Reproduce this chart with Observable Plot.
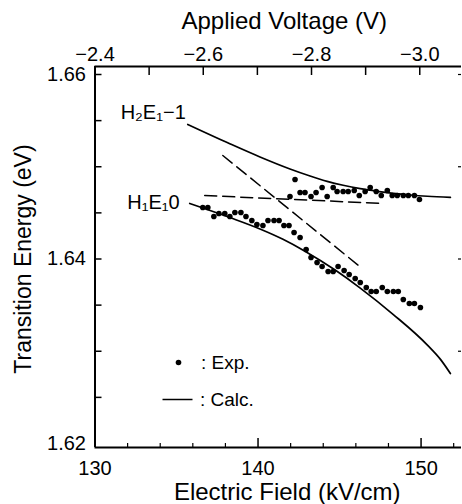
<!DOCTYPE html>
<html><head><meta charset="utf-8">
<script src="https://cdn.jsdelivr.net/npm/d3@7"></script>
<script src="https://cdn.jsdelivr.net/npm/@observablehq/plot@0.6"></script>
<style>body{margin:0;background:#fff}#chart svg{overflow:visible}</style>
</head><body><div id="chart"></div><script>
// Calculated H2E1-1 transition (solid)
const calcUpperField  = [135.69, 138.27, 140.12, 141.96, 143.19, 144.24, 145.22, 146.27, 147.31, 148.30, 149.34, 150.39, 151.80];
const calcUpperEnergy = [1.65458, 1.65249, 1.65106, 1.64976, 1.64900, 1.64842, 1.64799, 1.64762, 1.64734, 1.64712, 1.64694, 1.64680, 1.64667];
// Calculated H1E1 0 transition (solid)
const calcLowerField  = [135.81, 138.27, 140.12, 141.53, 142.88, 144.73, 146.27, 148.30, 150.39, 151.19, 151.80];
const calcLowerEnergy = [1.64602, 1.64450, 1.64326, 1.64214, 1.64085, 1.63880, 1.63685, 1.63398, 1.63067, 1.62912, 1.62759];
// Uncoupled (dashed) lines
const dashSteepField  = [137.84, 146.39];
const dashSteepEnergy = [1.65122, 1.63897];
const dashFlatField   = [136.73, 147.68];
const dashFlatEnergy  = [1.64688, 1.64602];
// Experimental points, upper branch
const expUpperField  = [141.96, 142.27, 142.58, 142.88, 143.25, 143.56, 143.93, 144.24, 144.61, 144.85, 145.22, 145.53, 145.90, 146.21, 146.57, 146.88, 147.25, 147.56, 147.93, 148.23, 148.54, 148.91, 149.22, 149.59, 149.90];
const expUpperEnergy = [1.64678, 1.64862, 1.64721, 1.64721, 1.64678, 1.64721, 1.64775, 1.64678, 1.64775, 1.64732, 1.64732, 1.64732, 1.64743, 1.64688, 1.64732, 1.64775, 1.64732, 1.64688, 1.64743, 1.64688, 1.64688, 1.64688, 1.64688, 1.64688, 1.64645];
// Experimental points, lower branch
const expLowerField  = [136.61, 136.92, 137.29, 137.60, 137.96, 138.27, 138.58, 138.95, 139.26, 139.62, 139.93, 140.30, 140.61, 140.98, 141.29, 141.59, 141.90, 142.21, 142.58, 142.95, 143.25, 143.62, 143.93, 144.30, 144.61, 144.91, 145.28, 145.59, 145.96, 146.27, 146.64, 146.94, 147.25, 147.62, 147.93, 148.30, 148.60, 148.91, 149.28, 149.59, 149.96];
const expLowerEnergy = [1.64558, 1.64558, 1.64461, 1.64493, 1.64493, 1.64461, 1.64504, 1.64504, 1.64461, 1.64417, 1.64374, 1.64363, 1.64417, 1.64417, 1.64417, 1.64363, 1.64363, 1.64287, 1.64233, 1.64103, 1.64016, 1.63962, 1.63919, 1.63865, 1.63865, 1.63919, 1.63875, 1.63832, 1.63789, 1.63745, 1.63691, 1.63648, 1.63648, 1.63691, 1.63648, 1.63648, 1.63648, 1.63561, 1.63518, 1.63518, 1.63474];
// Axes
const fieldMajorTicks = [130, 140, 150];
const fieldMinorTicks = [132, 134, 136, 138, 142, 144, 146, 148, 152];
const energyTicks = [1.625, 1.63, 1.635, 1.64, 1.645, 1.65, 1.655, 1.66];
const energyLabelTicks = [1.62, 1.64, 1.66];
const energyRightTicks = [1.63, 1.64, 1.65, 1.66];
const voltageTicks = [-2.5, -2.6, -2.7, -2.8, -2.9, -3.0];
const voltageLabelTicks = [-2.4, -2.6, -2.8, -3.0];
const curveLabels = ["H\u2082E\u2081\u22121", "H\u2081E\u20810"];
const legendLabels = [": Exp.", ": Calc."];
const xDomain = [130, 152.48];
const yDomain = [1.619566, 1.660867];
// voltage -> field (linear relation of the top axis)
const fieldOfVoltage = v => 130 + (-2.4 - v) * 33.2;

const zip = (xs, ys) => xs.map((x, i) => ({x, y: ys[i]}));
const calcUpper = zip(calcUpperField, calcUpperEnergy);
const calcLower = zip(calcLowerField, calcLowerEnergy);
const dashSteep = zip(dashSteepField, dashSteepEnergy);
const dashFlat = zip(dashFlatField, dashFlatEnergy);
const expAll = zip(expUpperField, expUpperEnergy).concat(zip(expLowerField, expLowerEnergy));
const hLine = {draw(ctx) { ctx.moveTo(-15, 0); ctx.lineTo(15, 0); }};
const F = "Liberation Sans, Arial, Helvetica, sans-serif";

const W = 462, H = 504, ML = 94.5, MR = 1, MT = 66, MB = 57;
const FW = W - ML - MR, FH = H - MT - MB;
// tick lengths in pixels, converted to data units
const ypx = (yDomain[1] - yDomain[0]) / FH;
const xpx = (xDomain[1] - xDomain[0]) / FW;

const chart = Plot.plot({
  width: W, height: H,
  marginLeft: ML, marginRight: MR, marginTop: MT, marginBottom: MB,
  style: {fontFamily: F, fontSize: "20px", background: "#fff", color: "#000"},
  x: {domain: xDomain, axis: null},
  y: {domain: yDomain, axis: null},
  marks: [
    // frame
    Plot.ruleX([xDomain[0]], {strokeWidth: 2}),
    Plot.ruleY(yDomain, {strokeWidth: 2}),
    // inward ticks
    Plot.ruleX(fieldMajorTicks, {x: d => d, y1: yDomain[0], y2: yDomain[0] + 9 * ypx, strokeWidth: 1.5}),
    Plot.ruleX(fieldMinorTicks, {x: d => d, y1: yDomain[0], y2: yDomain[0] + 4 * ypx, strokeWidth: 1.2}),
    Plot.ruleX(voltageTicks.map(fieldOfVoltage), {x: d => d, y1: yDomain[1], y2: yDomain[1] - 9 * ypx, strokeWidth: 1.5}),
    Plot.ruleY(energyTicks, {y: d => d, x1: xDomain[0], x2: xDomain[0] + 7 * xpx, strokeWidth: 1.5}),
    Plot.ruleY(energyRightTicks, {y: d => d, x1: xDomain[1], x2: xDomain[1] - 3 * xpx, strokeWidth: 1.2}),
    // tick labels
    Plot.axisX(fieldMajorTicks, {anchor: "bottom", tickSize: 0, tickPadding: 13, fontSize: 20, label: null, tickFormat: d3.format("d")}),
    Plot.axisY(energyLabelTicks, {anchor: "left", tickSize: 0, tickPadding: 9, fontSize: 20, label: null, tickFormat: d3.format(".2f")}),
    Plot.axisX(voltageLabelTicks.map(fieldOfVoltage), {anchor: "top", tickSize: 0, tickPadding: 6, fontSize: 20, label: null,
      tickFormat: (d, i) => d3.format(".1f")(voltageLabelTicks[i])}),
    // axis titles
    Plot.text(["Applied Voltage (V)"], {frameAnchor: "top", textAnchor: "middle", lineAnchor: "middle", dx: 6, dy: -45, fontSize: 24}),
    Plot.text(["Electric Field (kV/cm)"], {frameAnchor: "bottom", textAnchor: "middle", lineAnchor: "middle", dx: 9, dy: 45, fontSize: 24}),
    Plot.text(["Transition Energy (eV)"], {frameAnchor: "left", textAnchor: "middle", lineAnchor: "middle", dx: -71, dy: 2, rotate: -90, fontSize: 23}),
    // dashed uncoupled lines
    Plot.line(dashSteep, {x: "x", y: "y", strokeWidth: 1.5, strokeDasharray: "12,6"}),
    Plot.line(dashFlat, {x: "x", y: "y", strokeWidth: 1.5, strokeDasharray: "12,6"}),
    // calculated curves
    Plot.line(calcUpper, {x: "x", y: "y", strokeWidth: 1.7, curve: "monotone-x"}),
    Plot.line(calcLower, {x: "x", y: "y", strokeWidth: 1.7, curve: "monotone-x"}),
    // experimental
    Plot.dot(expAll, {x: "x", y: "y", r: 2.8, fill: "#000", stroke: "none"}),
    // curve labels
    Plot.text([calcUpper[0]], {x: "x", y: "y", text: () => curveLabels[0], textAnchor: "end", dx: -2, dy: -12, fontSize: 20}),
    Plot.text([calcLower[0]], {x: "x", y: "y", text: () => curveLabels[1], textAnchor: "end", dx: -10, dy: -1, fontSize: 20}),
    // legend
    Plot.dot([0], {frameAnchor: "bottom-left", dx: 83.5, dy: -85, r: 2.8, fill: "#000", stroke: "none"}),
    Plot.text([legendLabels[0]], {frameAnchor: "bottom-left", textAnchor: "start", lineAnchor: "middle", dx: 106, dy: -85, fontSize: 19}),
    Plot.dot([0], {frameAnchor: "bottom-left", dx: 82.5, dy: -48, symbol: hLine, stroke: "#000", strokeWidth: 1.5, fill: "none"}),
    Plot.text([legendLabels[1]], {frameAnchor: "bottom-left", textAnchor: "start", lineAnchor: "middle", dx: 105, dy: -48, fontSize: 19})
  ]
});
document.getElementById("chart").appendChild(chart);
</script></body></html>
